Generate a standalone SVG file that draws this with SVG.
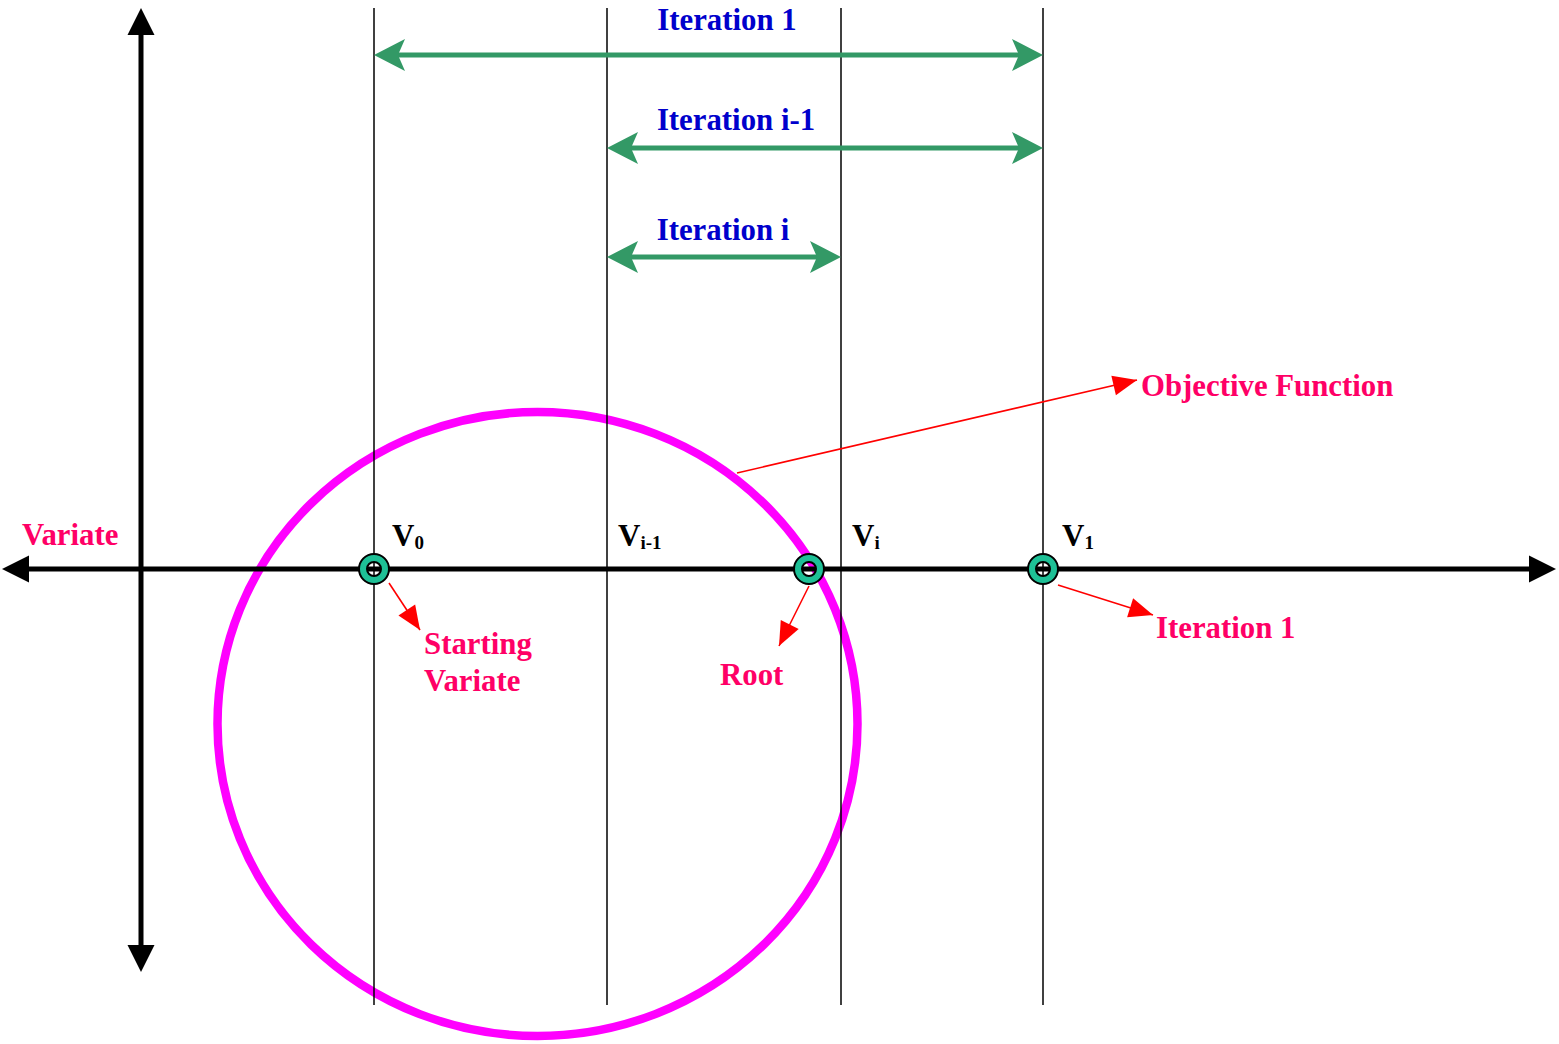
<svg xmlns="http://www.w3.org/2000/svg" width="1559" height="1044" viewBox="0 0 1559 1044">
<style>
.guide{stroke:#000;stroke-width:1.5;fill:none}
.axis{stroke:#000;stroke-width:5;fill:none}
.span{stroke:#339966;stroke-width:5;fill:none}
.lead{stroke:#FF0000;stroke-width:1.6;fill:none}
.blue{font-family:"Liberation Serif","Times New Roman",serif;font-weight:bold;font-size:30.8px;fill:#0000CC}
.pink{font-family:"Liberation Serif","Times New Roman",serif;font-weight:bold;font-size:30.8px;fill:#FF0066}
.v{font-family:"Liberation Serif","Times New Roman",serif;font-weight:bold;font-size:31px;fill:#000}
.sub{font-size:19px}
.ring{fill:#1EC096;stroke:#000;stroke-width:2;fill-rule:evenodd}
</style>
<defs>
<marker id="blk" markerUnits="userSpaceOnUse" markerWidth="28" markerHeight="28" refX="0" refY="13.5" orient="auto-start-reverse" overflow="visible">
<path d="M0,0 L27,13.5 L0,27 z" fill="#000"/>
</marker>
<marker id="grn" markerUnits="userSpaceOnUse" markerWidth="32" markerHeight="32" refX="7" refY="16" orient="auto-start-reverse" overflow="visible">
<path d="M0,0 L31,16 L0,32 L7,16 z" fill="#339966"/>
</marker>
<marker id="red" markerUnits="userSpaceOnUse" markerWidth="25" markerHeight="20" refX="24" refY="10" orient="auto" overflow="visible">
<path d="M0,0 L24,10 L0,20 z" fill="#FF0000"/>
</marker>
</defs>

<g id="objective-function-curve">
<ellipse cx="537.5" cy="724" rx="320" ry="312" fill="none" stroke="#FF00FF" stroke-width="8.5"/>
</g>

<g id="guides">
<line class="guide" x1="374" y1="8" x2="374" y2="1005"/>
<line class="guide" x1="607" y1="8" x2="607" y2="1005"/>
<line class="guide" x1="841" y1="8" x2="841" y2="1005"/>
<line class="guide" x1="1043" y1="8" x2="1043" y2="1005"/>
</g>

<g id="axes">
<line class="axis" x1="29" y1="569" x2="1529" y2="569" marker-start="url(#blk)" marker-end="url(#blk)"/>
<line class="axis" x1="141" y1="35" x2="141" y2="945" marker-start="url(#blk)" marker-end="url(#blk)"/>
</g>

<g id="connectors">
<line class="span" x1="398" y1="55" x2="1019" y2="55" marker-start="url(#grn)" marker-end="url(#grn)"/>
<line class="span" x1="631" y1="148" x2="1019" y2="148" marker-start="url(#grn)" marker-end="url(#grn)"/>
<line class="span" x1="631" y1="257" x2="817" y2="257" marker-start="url(#grn)" marker-end="url(#grn)"/>
<line class="lead" x1="737" y1="473" x2="1137" y2="380" marker-end="url(#red)"/>
<line class="lead" x1="389" y1="583" x2="420" y2="630" marker-end="url(#red)"/>
<line class="lead" x1="809" y1="586" x2="779" y2="646" marker-end="url(#red)"/>
<line class="lead" x1="1058" y1="585" x2="1153" y2="615" marker-end="url(#red)"/>
</g>

<g id="point-v0">
<path class="ring" d="M359,569 a15,15 0 1,0 30,0 a15,15 0 1,0 -30,0 z M367,569 a7,7 0 1,0 14,0 a7,7 0 1,0 -14,0 z"/>
</g>
<g id="point-root">
<path class="ring" d="M794,569 a15,15 0 1,0 30,0 a15,15 0 1,0 -30,0 z M802,569 a7,7 0 1,0 14,0 a7,7 0 1,0 -14,0 z"/>
</g>
<g id="point-v1">
<path class="ring" d="M1028,569 a15,15 0 1,0 30,0 a15,15 0 1,0 -30,0 z M1036,569 a7,7 0 1,0 14,0 a7,7 0 1,0 -14,0 z"/>
</g>

<g id="labels">
<text class="blue" x="727" y="30" text-anchor="middle">Iteration 1</text>
<text class="blue" x="736" y="130" text-anchor="middle">Iteration i-1</text>
<text class="blue" x="723" y="240" text-anchor="middle">Iteration i</text>
<text class="pink" x="22" y="545">Variate</text>
<text class="pink" x="1141" y="396">Objective Function</text>
<text class="pink" x="424" y="654">Starting</text>
<text class="pink" x="424" y="691">Variate</text>
<text class="pink" x="720" y="685">Root</text>
<text class="pink" x="1156" y="638">Iteration 1</text>
<text class="v" x="392" y="546">V<tspan class="sub" dy="3">0</tspan></text>
<text class="v" x="618" y="546">V<tspan class="sub" dy="3">i-1</tspan></text>
<text class="v" x="852" y="546">V<tspan class="sub" dy="3">i</tspan></text>
<text class="v" x="1062" y="546">V<tspan class="sub" dy="3">1</tspan></text>
</g>
</svg>
